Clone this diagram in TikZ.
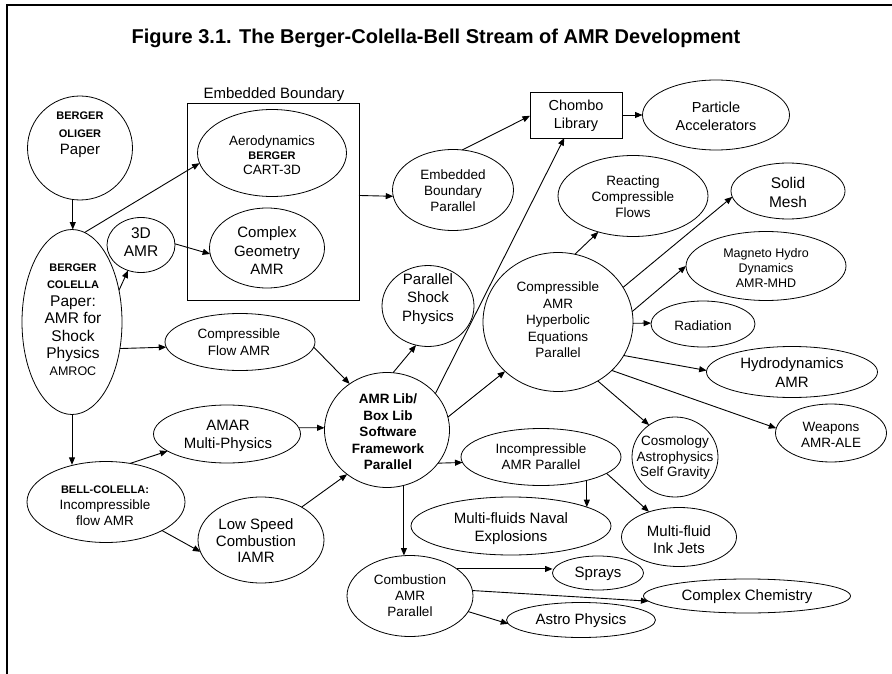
\documentclass[tikz,border=0pt]{standalone}
\usepackage{fontspec}
\setmainfont{Liberation Sans}
\usetikzlibrary{shapes.geometric,arrows.meta}
\newcommand{\fs}[2]{\fontsize{#1}{#2}\selectfont}
\newcommand{\bsm}{\fs{11}{17}\bfseries}
\begin{document}
\begin{tikzpicture}[x=1pt,y=-1pt,
  el/.style={ellipse,draw,line width=0.8pt,inner sep=0pt,outer sep=0pt},
  bx/.style={rectangle,draw,line width=0.8pt,inner sep=0pt,outer sep=0pt},
  wh/.style 2 args={minimum width=#1pt,minimum height=#2pt},
  tx/.style={align=center,inner sep=0pt},
  arr/.style={-{Triangle[length=7.5pt,width=6pt]},line width=0.9pt},
]
\useasboundingbox (0,0) rectangle (892,674);
\draw[line width=2.5pt] (892,5) -- (7,5) -- (7,674);

\node[tx,font=\fs{20}{24}\bfseries] (title) at (436,38) {Figure 3.1. The Berger-Colella-Bell Stream of AMR Development};

% left column
\node[el,wh={105}{104}] (oliger) at (80,148) {};
\node[tx,font=\fs{15}{17.5}] (oligerT) at (80,135) {{\bsm BERGER}\\{\bsm OLIGER}\\Paper};

\node[el,wh={100}{185}] (colella) at (72,322) {};
\node[tx,font=\fs{15.5}{17.4}] (colellaT) at (73,320) {{\bsm BERGER}\\{\bsm COLELLA}\\Paper:\\AMR for\\Shock\\Physics\\{\fs{12.5}{15}AMROC}};

\node[el,wh={158}{81}] (bell) at (106,502) {};
\node[tx,font=\fs{13.5}{16}] (bellT) at (105,506) {{\bsm BELL-COLELLA:}\\Incompressible\\flow AMR};

\node[el,wh={68}{55}] (td) at (141,245) {};
\node[tx,font=\fs{15.5}{18}] (tdT) at (141,242) {3D\\AMR};

% embedded boundary group
\node[bx,wh={172}{197}] (ebox) at (273,201.5) {};
\node[tx,font=\fs{15}{18}] (eboxT) at (274,95) {Embedded Boundary};

\node[el,wh={149}{87}] (aero) at (272,153) {};
\node[tx,font=\fs{13.5}{14.5}] (aeroT) at (272,155) {Aerodynamics\\{\bsm BERGER}\\CART-3D};

\node[el,wh={115}{80}] (cgeo) at (267,248) {};
\node[tx,font=\fs{15}{18.5}] (cgeoT) at (267,251) {Complex\\Geometry\\AMR};

\node[el,wh={121}{81}] (ebp) at (453,190) {};
\node[tx,font=\fs{13.5}{16}] (ebpT) at (453,191) {Embedded\\Boundary\\Parallel};

\node[bx,wh={92}{46}] (chombo) at (576,115) {};
\node[tx,font=\fs{14.5}{18}] (chomboT) at (576,116) {Chombo\\Library};

\node[el,wh={147}{70}] (particle) at (716,115) {};
\node[tx,font=\fs{14.5}{18}] (particleT) at (716,116) {Particle\\Accelerators};

% right cluster
\node[el,wh={150}{81}] (react) at (633,196) {};
\node[tx,font=\fs{13.5}{16}] (reactT) at (633,197) {Reacting\\Compressible\\Flows};

\node[el,wh={114}{56}] (solid) at (788,191) {};
\node[tx,font=\fs{15.5}{19}] (solidT) at (788,192.5) {Solid\\Mesh};

\node[el,wh={160}{69}] (mhd) at (766,266) {};
\node[tx,font=\fs{12.5}{15}] (mhdT) at (766,268) {Magneto Hydro\\Dynamics\\AMR-MHD};

\node[el,wh={104}{46}] (rad) at (703,324) {};
\node[tx,font=\fs{13.5}{16}] (radT) at (703,326) {Radiation};

\node[el,wh={150}{139}] (cahep) at (558,322) {};
\node[tx,font=\fs{13.5}{16.5}] (cahepT) at (558,320) {Compressible\\AMR\\Hyperbolic\\Equations\\Parallel};

\node[el,wh={171}{51}] (hydro) at (792,372) {};
\node[tx,font=\fs{15}{19}] (hydroT) at (792,373) {Hydrodynamics\\AMR};

\node[el,wh={111}{58}] (weap) at (831,433) {};
\node[tx,font=\fs{13.5}{16}] (weapT) at (831,435) {Weapons\\AMR-ALE};

\node[el,wh={86}{80}] (cosmo) at (675,457) {};
\node[tx,font=\fs{13.5}{15.5}] (cosmoT) at (675,458) {Cosmology\\Astrophysics\\Self Gravity};

% centre
\node[el,wh={125}{115}] (amrlib) at (387,430) {};
\node[tx,font=\fs{13.5}{16.5}\bfseries] (amrlibT) at (388,432) {AMR Lib/\\Box Lib\\Software\\Framework\\Parallel};

\node[el,wh={92}{81}] (parshock) at (428,306) {};
\node[tx,font=\fs{15}{18.5}] (parshockT) at (428,299) {Parallel\\Shock\\Physics};

\node[el,wh={150}{57}] (compflow) at (240,342) {};
\node[tx,font=\fs{13.5}{17}] (compflowT) at (239,342) {Compressible\\Flow AMR};

\node[el,wh={147}{58}] (amar) at (227,434) {};
\node[tx,font=\fs{15}{18}] (amarT) at (228,436) {AMAR\\Multi-Physics};

\node[el,wh={126}{86}] (lowspeed) at (261,540) {};
\node[tx,font=\fs{15}{16.5}] (lowspeedT) at (256,541) {Low Speed\\Combustion\\IAMR};

\node[el,wh={160}{57}] (incomp) at (541,457) {};
\node[tx,font=\fs{13.5}{16}] (incompT) at (541,457) {Incompressible\\AMR Parallel};

\node[el,wh={200}{58}] (naval) at (511,526) {};
\node[tx,font=\fs{15}{18}] (navalT) at (511,529) {Multi-fluids Naval\\Explosions};

\node[el,wh={115}{59}] (ink) at (679,537) {};
\node[tx,font=\fs{15}{17}] (inkT) at (679,540) {Multi-fluid\\Ink Jets};

\node[el,wh={126}{81}] (comb) at (410,596) {};
\node[tx,font=\fs{13.5}{16}] (combT) at (410,596) {Combustion\\AMR\\Parallel};

\node[el,wh={91}{34}] (sprays) at (598,573) {};
\node[tx,font=\fs{15}{18}] (spraysT) at (598,574) {Sprays};

\node[el,wh={207}{34}] (chem) at (747,596) {};
\node[tx,font=\fs{15}{18}] (chemT) at (747,597) {Complex Chemistry};

\node[el,wh={149}{35}] (astro) at (581,620) {};
\node[tx,font=\fs{15}{18}] (astroT) at (581,621) {Astro Physics};

% connectors
\draw[arr] (oliger.262) -- (oliger.262 |- colella.north);
\draw[arr] (colella.south) -- (colella.south |- bell.130);
\draw[arr] (colella.34) -- (td.243);
\draw[arr] (colella.82) -- (aero.188);
\draw[arr] (td.2) -- (cgeo.186);
\draw[arr] (ebox.4) -- (ebp.186);
\draw[arr] (ebp.77) -- (chombo.181);
\draw[arr] (amrlib.37) -- (chombo.243);
\draw[arr] (chombo.east) -- (particle.west);
\draw[arr] (cahep.76) -- (react.226);
\draw[arr] (cahep.28) -- (solid.186);
\draw[arr] (cahep.8) -- (mhd.west);
\draw[arr] (cahep.359) -- (rad.179);
\draw[arr] (cahep.333) -- (hydro.179);
\draw[arr] (cahep.318) -- (weap.175);
\draw[arr] (cahep.304) -- (cosmo.129);
\draw[arr] (colella.331) -- (compflow.184);
\draw[arr] (compflow.356) -- (amrlib.129);
\draw[arr] (bell.58) -- (amar.196);
\draw[arr] (amar.5) -- (amrlib.178);
\draw[arr] (bell.333) -- (lowspeed.191);
\draw[arr] (lowspeed.39) -- (amrlib.228);
\draw[arr] (amrlib.84) -- (parshock.253);
\draw[arr] (amrlib.12) -- (cahep.223);
\draw[arr] (amrlib.327) -- (incomp.184);
\draw[arr] (amrlib.287) -- (amrlib.287 |- comb.north);
\draw[arr] (incomp.333) -- (incomp.333 |- naval.14);
\draw[arr] (incomp.346) -- (ink.140);
\draw[arr] (comb.30) -- (comb.30 -| sprays.west);
\draw[arr] (comb.5) -- (chem.183);
\draw[arr] (comb.345) -- (astro.183);
\end{tikzpicture}
\end{document}
